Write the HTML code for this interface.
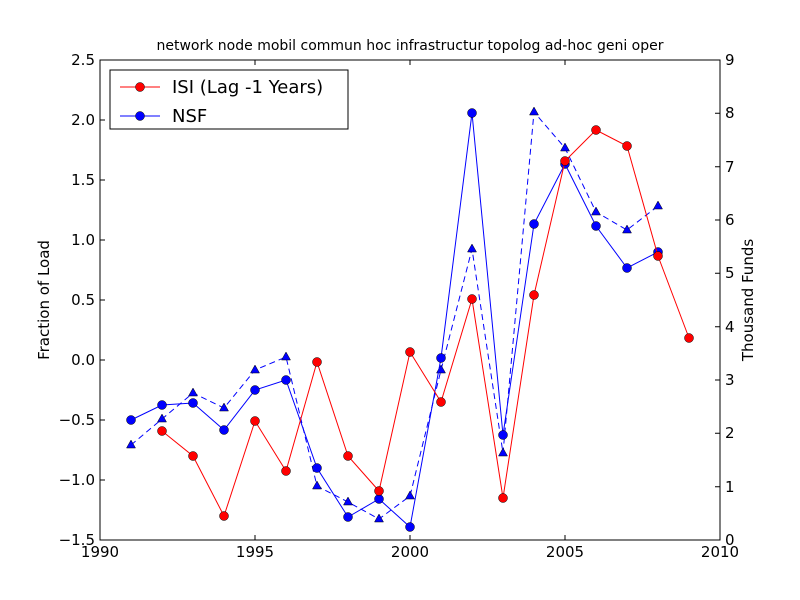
<!DOCTYPE html>
<html><head><meta charset="utf-8"><style>body{margin:0;background:#fff}svg{display:block}text{font-family:"DejaVu Sans","Liberation Sans",sans-serif}</style></head>
<body>
<svg width="800" height="600" viewBox="0 0 800 600">
<rect width="800" height="600" fill="#fff"/>
<text x="410" y="50" font-size="14" text-anchor="middle">network node mobil commun hoc infrastructur topolog ad-hoc geni oper</text>
<g stroke="#000" fill="none">
<rect x="100" y="60" width="620" height="480"/>
</g>
<g stroke="#000" stroke-width="1">
<path d="M100 540v-5M255 540v-5M410 540v-5M565 540v-5M720 540v-5M100 60v5M255 60v5M410 60v5M565 60v5M720 60v5"/>
<path d="M100 60h5M100 120h5M100 180h5M100 240h5M100 300h5M100 360h5M100 420h5M100 480h5M100 540h5"/>
<path d="M720 540h-5M720 486.7h-5M720 433.3h-5M720 380h-5M720 326.7h-5M720 273.3h-5M720 220h-5M720 166.7h-5M720 113.3h-5M720 60h-5"/>
</g>
<g font-size="15" text-anchor="middle">
<text x="100" y="557">1990</text><text x="255" y="557">1995</text><text x="410" y="557">2000</text><text x="565" y="557">2005</text><text x="720" y="557">2010</text>
</g>
<g font-size="15" text-anchor="end">
<text x="95" y="65">2.5</text><text x="95" y="125">2.0</text><text x="95" y="185">1.5</text><text x="95" y="245">1.0</text><text x="95" y="305">0.5</text><text x="95" y="365">0.0</text><text x="95" y="425">−0.5</text><text x="95" y="485">−1.0</text><text x="95" y="545">−1.5</text>
</g>
<g font-size="15">
<text x="725" y="545">0</text><text x="725" y="492">1</text><text x="725" y="438">2</text><text x="725" y="385">3</text><text x="725" y="332">4</text><text x="725" y="278">5</text><text x="725" y="225">6</text><text x="725" y="172">7</text><text x="725" y="118">8</text><text x="725" y="65">9</text>
</g>
<text transform="translate(49,300) rotate(-90)" font-size="15" text-anchor="middle">Fraction of Load</text>
<text transform="translate(753,300) rotate(-90)" font-size="15" text-anchor="middle">Thousand Funds</text>
<polyline fill="none" stroke="#00f" stroke-dasharray="6,4" points="131,445 162,419 193,393 224,408 255,370 286,357 317,486 348,502 379,519 410,496 441,370 472,249 503,453 534,112 565,148 596,212 627,230 658,206"/>
<g fill="#00f" stroke="#000" stroke-width="0.5">
<path d="M131 440l4.5 8h-9zM162 414l4.5 8h-9zM193 388l4.5 8h-9zM224 403l4.5 8h-9zM255 365l4.5 8h-9zM286 352l4.5 8h-9zM317 481l4.5 8h-9zM348 497l4.5 8h-9zM379 514l4.5 8h-9zM410 491l4.5 8h-9zM441 365l4.5 8h-9zM472 244l4.5 8h-9zM503 448l4.5 8h-9zM534 107l4.5 8h-9zM565 143l4.5 8h-9zM596 207l4.5 8h-9zM627 225l4.5 8h-9zM658 201l4.5 8h-9z"/>
</g>
<polyline fill="none" stroke="#00f" points="131,420 162,405 193,403 224,430 255,390 286,380 317,468 348,517 379,499 410,527 441,358 472,113 503,435 534,224 565,164 596,226 627,268 658,252"/>
<g fill="#00f" stroke="#000" stroke-width="0.5">
<circle cx="131" cy="420" r="4.5"/><circle cx="162" cy="405" r="4.5"/><circle cx="193" cy="403" r="4.5"/><circle cx="224" cy="430" r="4.5"/><circle cx="255" cy="390" r="4.5"/><circle cx="286" cy="380" r="4.5"/><circle cx="317" cy="468" r="4.5"/><circle cx="348" cy="517" r="4.5"/><circle cx="379" cy="499" r="4.5"/><circle cx="410" cy="527" r="4.5"/><circle cx="441" cy="358" r="4.5"/><circle cx="472" cy="113" r="4.5"/><circle cx="503" cy="435" r="4.5"/><circle cx="534" cy="224" r="4.5"/><circle cx="565" cy="164" r="4.5"/><circle cx="596" cy="226" r="4.5"/><circle cx="627" cy="268" r="4.5"/><circle cx="658" cy="252" r="4.5"/>
</g>
<polyline fill="none" stroke="#f00" points="162,431 193,456 224,516 255,421 286,471 317,362 348,456 379,491 410,352 441,402 472,299 503,498 534,295 565,161 596,130 627,146 658,256 689,338"/>
<g fill="#f00" stroke="#000" stroke-width="0.5">
<circle cx="162" cy="431" r="4.5"/><circle cx="193" cy="456" r="4.5"/><circle cx="224" cy="516" r="4.5"/><circle cx="255" cy="421" r="4.5"/><circle cx="286" cy="471" r="4.5"/><circle cx="317" cy="362" r="4.5"/><circle cx="348" cy="456" r="4.5"/><circle cx="379" cy="491" r="4.5"/><circle cx="410" cy="352" r="4.5"/><circle cx="441" cy="402" r="4.5"/><circle cx="472" cy="299" r="4.5"/><circle cx="503" cy="498" r="4.5"/><circle cx="534" cy="295" r="4.5"/><circle cx="565" cy="161" r="4.5"/><circle cx="596" cy="130" r="4.5"/><circle cx="627" cy="146" r="4.5"/><circle cx="658" cy="256" r="4.5"/><circle cx="689" cy="338" r="4.5"/>
</g>
<rect x="110" y="70" width="238" height="59" fill="#fff" stroke="#000"/>
<line x1="120" y1="87" x2="160" y2="87" stroke="#f00"/><circle cx="140" cy="87" r="4.5" fill="#f00" stroke="#000" stroke-width="0.5"/>
<line x1="120" y1="116" x2="160" y2="116" stroke="#00f"/><circle cx="140" cy="116" r="4.5" fill="#00f" stroke="#000" stroke-width="0.5"/>
<text x="172" y="93" font-size="18">ISI (Lag -1 Years)</text>
<text x="172" y="122" font-size="18">NSF</text>
</svg>
</body></html>
